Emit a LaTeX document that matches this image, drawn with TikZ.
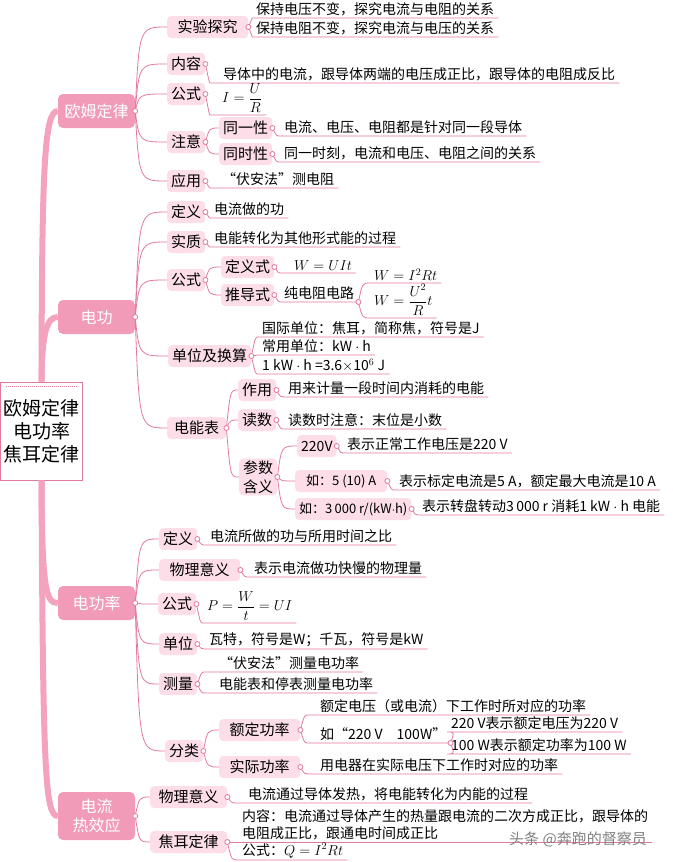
\documentclass[tikz,border=0pt]{standalone}
\usepackage{amsmath}
\usepackage{fontspec}
\setmainfont{Noto Sans CJK SC}
\usepackage{tikz}
\usetikzlibrary{calc}
\definecolor{mainpink}{HTML}{F29BB8}
\definecolor{subpink}{HTML}{FCDDE8}
\definecolor{linkpink}{HTML}{E27A9C}
\definecolor{trunkpink}{HTML}{F4A3BF}
\newcommand*{\leaf}[5][]{%
  \node [leaf, #1] (#2) at (#4) {#5};
  \draw [link] let \p1 = (#3), \p2 = (#4) in
    (\p1) .. controls (\x1+4pt,\y2) .. (\p2) -- (#2.south east);
}
\newcommand*{\branch}[2]{%
  \draw [link] let \p1 = (#1), \p2 = (#2) in
    (\p1) .. controls (\x1+4pt,\y2) .. (\p2);
}
\begin{document}
\begin{tikzpicture}[x=1pt, y=-1pt,
    main/.style  = {fill=mainpink, rounded corners=5pt, text=white,
                    font=\fontsize{16}{19}\selectfont, minimum width=77pt,
                    minimum height=34pt, align=center, inner sep=2pt},
    sub/.style   = {fill=subpink, rounded corners=4pt, anchor=west,
                    font=\fontsize{15}{19}\selectfont, inner xsep=4pt,
                    inner ysep=2pt, minimum height=22pt, align=center},
    leaf/.style  = {anchor=south west, font=\fontsize{14}{17}\selectfont,
                    inner xsep=4pt, inner ysep=2pt, align=left},
    link/.style  = {draw=linkpink, line width=0.8pt},
    trunk/.style = {draw=trunkpink, line width=6pt},
    dot/.style   = {circle, draw=linkpink, fill=white, line width=0.8pt,
                    inner sep=0pt, minimum size=5pt},
    hub/.style   = {draw=linkpink, fill=white, line width=0.8pt,
                    minimum width=81pt, minimum height=98pt, align=center,
                    font=\fontsize{19}{23}\selectfont}]

  \useasboundingbox (0,0) rectangle (672,862);

  \node[hub] (hub) at (41.5,431) {欧姆定律\\电功率\\焦耳定律};
  \draw[densely dotted, linkpink, line width=1pt]
    ([xshift=6pt,yshift=-5pt]hub.north west) -- ([xshift=-6pt,yshift=-5pt]hub.north east);

  \node[main] (ohm)   at (96.5,111) {欧姆定律};
  \node[main] (work)  at (96.5,317) {电功};
  \node[main] (power) at (96.5,603) {电功率};
  \node[main, minimum height=48pt] (heat) at (96.5,816) {电流\\热效应};

  \draw[trunk] (hub.north) .. controls (42,170) and (44,111) .. (ohm.west);
  \draw[trunk] (hub.north) .. controls (42,335) and (46,317) .. (work.west);
  \draw[trunk] (hub.south) .. controls (42,590) and (46,603) .. (power.west);
  \draw[trunk] (hub.south) .. controls (43,770) and (45,816) .. (heat.west);

  \node[sub, minimum width=81pt] (o_exp) at (167,27) {实验探究};
  \node[sub] (o_con) at (167,64)  {内容};
  \node[sub] (o_for) at (167,94)  {公式};
  \node[sub] (o_att) at (167,142) {注意};
  \node[sub] (o_app) at (167,181) {应用};
  \node[sub] (o_one) at (219,128) {同一性};
  \node[sub] (o_sim) at (219,154) {同时性};
  \foreach \k in {o_exp,o_con,o_for,o_att,o_app} {\branch{ohm.east}{\k.west}}
  \branch{o_att.east}{o_one.west}
  \branch{o_att.east}{o_sim.west}

  \leaf{o_exp1}{o_exp.east}{252,18}{保持电压不变，探究电流与电阻的关系}
  \leaf{o_exp2}{o_exp.east}{252,37}{保持电阻不变，探究电流与电压的关系}
  \leaf[xshift=9pt]{o_con1}{o_con.east}{210,83}{导体中的电流，跟导体两端的电压成正比，跟导体的电阻成反比}
  \leaf[xshift=8pt]{o_for1}{o_for.east}{210,115}{$I=\dfrac{U}{R}$}
  \leaf{o_one1}{o_one.east}{280,136}{电流、电压、电阻都是针对同一段导体}
  \leaf{o_sim1}{o_sim.east}{280,162}{同一时刻，电流和电压、电阻之间的关系}
  \leaf[xshift=8pt]{o_app1}{o_app.east}{210,188}{“伏安法”测电阻}

  \node[sub] (w_def) at (167,212) {定义};
  \node[sub] (w_ess) at (167,242) {实质};
  \node[sub] (w_for) at (167,280) {公式};
  \node[sub] (w_uni) at (168,356) {单位及换算};
  \node[sub, minimum width=59pt] (w_met) at (167,428) {电能表};
  \node[sub] (w_dfs) at (221,267) {定义式};
  \node[sub] (w_der) at (221,295) {推导式};
  \node[sub] (w_use) at (238,390) {作用};
  \node[sub] (w_rea) at (238,420) {读数};
  \node[sub] (w_par) at (239,477) {参数\\含义};
  \node[sub, font=\fontsize{14}{17}\selectfont] (w_220) at (297,446) {220V};
  \node[sub, font=\fontsize{13}{16}\selectfont, minimum width=92pt] (w_5a) at (295,481) {如：5 (10) A};
  \node[sub, font=\fontsize{13}{16}\selectfont] (w_3k) at (295,509) {如：3\,000 r/(kW$\cdot$h)};
  \foreach \k in {w_def,w_ess,w_for,w_uni,w_met} {\branch{work.east}{\k.west}}
  \foreach \k in {w_dfs,w_der} {\branch{w_for.east}{\k.west}}
  \foreach \k in {w_use,w_rea,w_par} {\branch{w_met.east}{\k.west}}
  \foreach \k in {w_220,w_5a,w_3k} {\branch{w_par.east}{\k.west}}

  \leaf{w_def1}{w_def.east}{210,218}{电流做的功}
  \leaf{w_ess1}{w_ess.east}{210,247}{电能转化为其他形式能的过程}
  \leaf[xshift=10pt]{w_dfs1}{w_dfs.east}{280,273}{$W=UIt$}
  \leaf{w_der1}{w_der.east}{280,302}{纯电阻电路}
  \leaf{w_der2}{w_der1.south east}{370,283}{$W=I^2Rt$}
  \leaf{w_der3}{w_der1.south east}{370,318}{$W=\dfrac{U^2}{R}t$}
  \leaf{w_uni1}{w_uni.east}{258,337}{国际单位：焦耳，简称焦，符号是J}
  \leaf{w_uni2}{w_uni.east}{258,355}{常用单位：kW $\cdot$ h}
  \leaf{w_uni3}{w_uni.east}{258,374}{1 kW $\cdot$ h =3.6$\times$10$^{6}$ J}
  \leaf{w_use1}{w_use.east}{284,397}{用来计量一段时间内消耗的电能}
  \leaf{w_rea1}{w_rea.east}{284,429}{读数时注意：末位是小数}
  \leaf{w_2201}{w_220.east}{343,453}{表示正常工作电压是220 V}
  \leaf{w_5a1}{w_5a.east}{395,490}{表示标定电流是5 A，额定最大电流是10 A}
  \leaf{w_3k1}{w_3k.east}{418,515}{表示转盘转动3\,000 r 消耗1 kW $\cdot$ h 电能}

  \node[sub] (p_def) at (159,539) {定义};
  \node[sub, minimum width=81pt] (p_mea) at (159,570) {物理意义};
  \node[sub] (p_for) at (158,604) {公式};
  \node[sub] (p_uni) at (159,644) {单位};
  \node[sub] (p_msr) at (159,684) {测量};
  \node[sub] (p_cls) at (165,751) {分类};
  \node[sub, minimum width=81pt] (p_rat) at (219,730) {额定功率};
  \node[sub, minimum width=81pt] (p_act) at (219,767) {实际功率};
  \foreach \k in {p_def,p_mea,p_for,p_uni,p_msr,p_cls} {\branch{power.east}{\k.west}}
  \foreach \k in {p_rat,p_act} {\branch{p_cls.east}{\k.west}}

  \leaf{p_def1}{p_def.east}{206,545}{电流所做的功与所用时间之比}
  \leaf{p_mea1}{p_mea.east}{250,577}{表示电流做功快慢的物理量}
  \leaf{p_for1}{p_for.east}{203,623}{$P=\dfrac{W}{t}=UI$}
  \leaf{p_uni1}{p_uni.east}{205,649}{瓦特，符号是W；千瓦，符号是kW}
  \leaf[xshift=10pt]{p_msr1}{p_msr.east}{205,672}{“伏安法”测量电功率}
  \leaf[xshift=10pt]{p_msr2}{p_msr.east}{205,693}{电能表和停表测量电功率}
  \leaf[xshift=8pt]{p_rat1}{p_rat.east}{308,715}{额定电压（或电流）下工作时所对应的功率}
  \leaf[xshift=8pt]{p_rat2}{p_rat.east}{308,743}{如“220 V\quad 100W”}
  \leaf{p_rat3}{p_rat2.south east}{447,732}{220 V表示额定电压为220 V}
  \leaf{p_rat4}{p_rat2.south east}{447,754}{100 W表示额定功率为100 W}
  \leaf[xshift=8pt]{p_act1}{p_act.east}{308,774}{用电器在实际电压下工作时对应的功率}

  \node[sub, minimum width=77pt] (h_mea) at (150,797) {物理意义};
  \node[sub, minimum width=77pt] (h_jou) at (150,842) {焦耳定律};
  \foreach \k in {h_mea,h_jou} {\branch{heat.east}{\k.west}}

  \leaf[xshift=6pt]{h_mea1}{h_mea.east}{238,803}{电流通过导体发热，将电能转化为内能的过程}
  \leaf{h_jou1}{h_jou.east}{238,842}{内容：电流通过导体产生的热量跟电流的二次方成正比，跟导体的\\电阻成正比，跟通电时间成正比}
  \leaf{h_jou2}{h_jou.east}{238,860}{公式：$Q=I^2Rt$}

  \node[text=black!50, font=\fontsize{15}{18}\selectfont] (mark) at (578,839) {头条 @奔跑的督察员};

  \foreach \k in {ohm,work,power,heat,o_exp,o_con,o_for,o_att,o_app,o_one,o_sim,
                  w_def,w_ess,w_for,w_uni,w_met,w_dfs,w_der,w_use,w_rea,w_par,w_220,w_5a,w_3k,
                  p_def,p_mea,p_for,p_uni,p_msr,p_cls,p_rat,p_act,h_mea,h_jou}
    {\node[dot] at (\k.east) {};}
  \node[dot] at (w_der1.south east) {};
  \node[dot] at (p_rat2.south east) {};
\end{tikzpicture}
\end{document}
